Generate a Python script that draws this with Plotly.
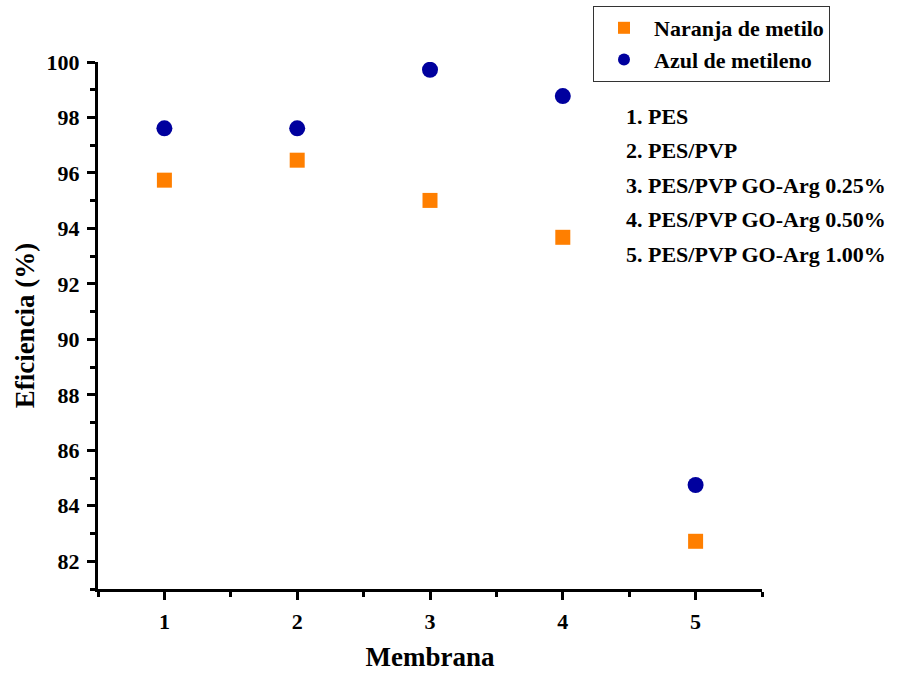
import plotly.graph_objects as go

# Membrane index on the x axis and removal efficiency (%) for each dye
membranes = [1, 2, 3, 4, 5]
naranja_metilo = [95.74, 96.46, 95.01, 93.68, 82.72]
azul_metileno = [97.61, 97.61, 99.72, 98.77, 84.75]

membrane_names = [
    "1. PES",
    "2. PES/PVP",
    "3. PES/PVP GO-Arg 0.25%",
    "4. PES/PVP GO-Arg 0.50%",
    "5. PES/PVP GO-Arg 1.00%",
]

FONT = "Liberation Serif"

fig = go.Figure()
fig.add_trace(go.Scatter(
    x=membranes, y=naranja_metilo, mode="markers", name="Naranja de metilo",
    marker=dict(symbol="square", size=15, color="#FF7F00", line=dict(width=0)),
))
fig.add_trace(go.Scatter(
    x=membranes, y=azul_metileno, mode="markers", name="Azul de metileno",
    marker=dict(symbol="circle", size=16, color="#00009E", line=dict(width=0)),
))

axis_common = dict(
    showline=True, linecolor="black", linewidth=3,
    ticks="outside", ticklen=8, tickwidth=3, tickcolor="black",
    showgrid=False, zeroline=False, mirror=False,
    tickfont=dict(family=FONT, size=22, color="black", weight="bold"),
    ticklabelstandoff=3,
)

title_font = dict(family=FONT, size=27, color="black", weight="bold")

fig.update_xaxes(
    range=[0.5, 5.5], tickvals=membranes, **axis_common,
    minor=dict(ticks="outside", ticklen=5, tickwidth=3, tickcolor="black", dtick=0.5, tick0=0.5),
    title=dict(text="Membrana", font=title_font, standoff=14),
)
fig.update_yaxes(
    range=[81, 100], dtick=2, tick0=82, **axis_common,
    minor=dict(ticks="outside", ticklen=5, tickwidth=3, tickcolor="black", dtick=1, tick0=81),
    title=dict(text="Eficiencia (%)", font=title_font, standoff=5),
)

for i, name in enumerate(membrane_names):
    fig.add_annotation(
        text=name, xref="paper", yref="paper", x=0.792, y=0.8975 - i * 0.0655,
        xanchor="left", yanchor="middle", showarrow=False,
        font=dict(family=FONT, size=22, color="black", weight="bold"),
    )

fig.update_layout(
    width=899, height=673,
    margin=dict(l=98, r=137, t=62, b=84, autoexpand=False),
    plot_bgcolor="white", paper_bgcolor="white",
    showlegend=True,
    legend=dict(
        xref="container", yref="container",
        x=593 / 899, y=1 - 6 / 673, xanchor="left", yanchor="top",
        bordercolor="#333333", borderwidth=1, bgcolor="white",
        font=dict(family=FONT, size=22, color="black", weight="bold"),
        itemsizing="constant", tracegroupgap=0, itemwidth=50,
    ),
)

fig.write_html("out.html")
